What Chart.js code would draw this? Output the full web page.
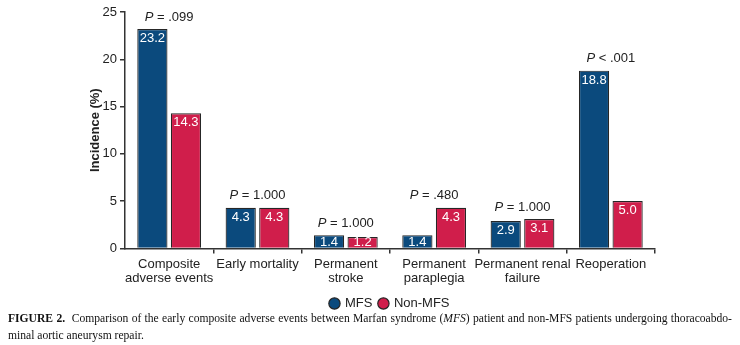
<!DOCTYPE html>
<html lang="en">
<head>
  <meta charset="UTF-8">
  <title>Early composite adverse events, MFS vs non-MFS</title>
  <script src="https://cdn.jsdelivr.net/npm/chart.js"></script>
  <style>
    body { margin: 0; background: #fff; width: 740px; height: 345px; overflow: hidden; position: relative; }
    #wrap { position: absolute; left: 0; top: 0; width: 740px; height: 320px; }
    .caption {
      position: absolute; left: 8px; top: 310px; width: 724px;
      font-family: "Liberation Serif", "Times New Roman", serif; font-size: 11.6px;
      line-height: 17px; color: #111;
    }
    .caption .l1 { text-align: justify; text-align-last: justify; }
    .caption b { font-weight: bold; }
  </style>
</head>
<body>
  <div id="wrap"><canvas id="tocChart" width="740" height="320"></canvas></div>
  <div class="caption">
    <div class="l1"><b>FIGURE 2.</b>&nbsp; Comparison of the early composite adverse events between Marfan syndrome (<i>MFS</i>) patient and non-MFS patients undergoing thoracoabdo-</div>
    <div>minal aortic aneurysm repair.</div>
  </div>

<script>
  // 資料
  const categories = [
    ['Composite', 'adverse events'],
    'Early mortality',
    ['Permanent', 'stroke'],
    ['Permanent', 'paraplegia'],
    ['Permanent renal', 'failure'],
    'Reoperation'
  ];
  const mfsData    = [23.2, 4.3, 1.4, 1.4, 2.9, 18.8];
  const nonMfsData = [14.3, 4.3, 1.2, 4.3, 3.1, 5.0];
  const pValues    = ['= .099', '= 1.000', '= 1.000', '= .480', '= 1.000', '< .001'];
  const yTicks     = [0, 5, 10, 15, 20, 25];

  const FONT = '"Liberation Sans", Arial, Helvetica, sans-serif';
  const BLUE = '#0b4a7d';
  const RED  = '#d01e4b';

  // 柱內數值 + 每組上方的 P 值
  const barText = {
    id: 'barText',
    afterDatasetsDraw(chart) {
      const ctx = chart.ctx;
      ctx.save();
      ctx.font = '13px ' + FONT;
      ctx.textAlign = 'center';
      ctx.textBaseline = 'top';
      ctx.fillStyle = '#fff';
      chart.data.datasets.forEach((ds, di) => {
        chart.getDatasetMeta(di).data.forEach((bar, i) => {
          const y = Math.min(bar.y + 3, bar.base - 12);
          ctx.fillText(ds.data[i].toFixed(1), bar.x, y);
        });
      });

      const xScale = chart.scales.x;
      const m0 = chart.getDatasetMeta(0).data;
      const m1 = chart.getDatasetMeta(1).data;
      ctx.textBaseline = 'middle';
      ctx.fillStyle = '#222';
      pValues.forEach((p, i) => {
        const cx = xScale.getPixelForValue(i);
        const top = Math.min(m0[i].y, m1[i].y) - 12;
        ctx.font = 'italic 13px ' + FONT;
        const wP = ctx.measureText('P').width;
        ctx.font = '13px ' + FONT;
        const rest = ' ' + p;
        const wR = ctx.measureText(rest).width;
        const x = cx - (wP + wR) / 2;
        ctx.textAlign = 'left';
        ctx.font = 'italic 13px ' + FONT;
        ctx.fillText('P', x, top);
        ctx.font = '13px ' + FONT;
        ctx.fillText(rest, x + wP, top);
      });
      ctx.restore();
    }
  };

  new Chart(document.getElementById('tocChart'), {
    type: 'bar',
    data: {
      labels: categories,
      datasets: [
        { label: 'MFS', data: mfsData, backgroundColor: BLUE, borderColor: '#262626', borderWidth: 1.2 },
        { label: 'Non-MFS', data: nonMfsData, backgroundColor: RED, borderColor: '#262626', borderWidth: 1.2 }
      ]
    },
    options: {
      responsive: false,
      animation: false,
      layout: { padding: { left: 88, right: 85, top: 12, bottom: 0 } },
      datasets: { bar: { categoryPercentage: 0.76, barPercentage: 0.9 } },
      plugins: {
        tooltip: { enabled: false },
        legend: {
          position: 'bottom',
          fullSize: false,
          labels: {
            usePointStyle: true, pointStyle: 'circle', boxWidth: 8, boxHeight: 8,
            padding: 7, color: '#222', font: { family: FONT, size: 13 }
          }
        }
      },
      scales: {
        x: {
          offset: true,
          border: { color: '#333', width: 1.5 },
          grid: {
            offset: true, drawOnChartArea: false, tickLength: 5, lineWidth: 1.5,
            tickColor: c => (c.index === 0 || c.index === categories.length) ? 'rgba(0,0,0,0)' : '#333'
          },
          ticks: { color: '#222', padding: 4, maxRotation: 0, autoSkip: false, font: { family: FONT, size: 13, lineHeight: 1.1 } }
        },
        y: {
          min: 0, max: 25,
          afterFit: s => { s.width = 37; },
          afterBuildTicks: s => { s.ticks = yTicks.map(v => ({ value: v })); },
          border: { color: '#333', width: 1.5 },
          grid: { drawOnChartArea: false, tickLength: 5, lineWidth: 1.5, color: '#333' },
          ticks: { color: '#222', padding: 3, font: { family: FONT, size: 13 } },
          title: { display: true, text: 'Incidence (%)', color: '#222', padding: 0, font: { family: FONT, size: 13, weight: 'bold' } }
        }
      }
    },
    plugins: [barText]
  });
</script>
</body>
</html>
